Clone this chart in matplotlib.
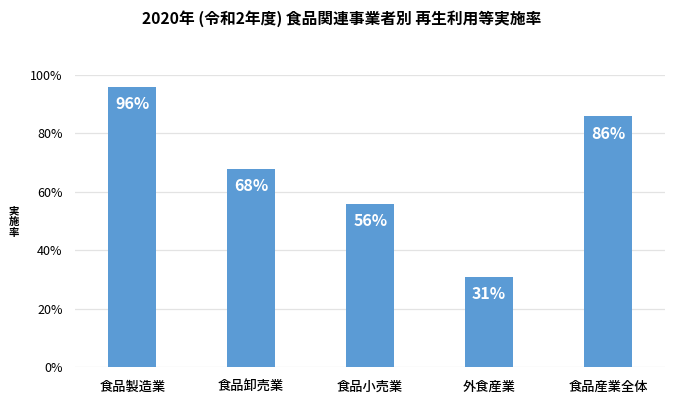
import matplotlib
matplotlib.use('Agg')
import matplotlib.pyplot as plt

plt.rcParams['font.family'] = ['Noto Sans CJK JP', 'DejaVu Sans']

categories = ['食品製造業', '食品卸売業', '食品小売業', '外食産業', '食品産業全体']
rates = [96, 68, 56, 31, 86]
yticks = [0, 20, 40, 60, 80, 100]
ytick_labels = ['0%', '20%', '40%', '60%', '80%', '100%']
ylabel_chars = ['実', '施', '率']

fig = plt.figure(figsize=(6.83, 4.08), dpi=100, facecolor='white')
ax = fig.add_axes([0.11, 0.10, 0.864, 0.716])

x = range(len(categories))
bars = ax.bar(x, rates, width=0.4, color='#5b9bd5', zorder=3)

for b, v in zip(bars, rates):
    ax.text(b.get_x() + b.get_width() / 2, v - 3.3, f'{v}%', ha='center', va='top',
            color='white', fontsize=11.5, fontweight='bold', zorder=4)

ax.set_xlim(-0.48, len(categories) - 0.52)
ax.set_ylim(0, 100)
ax.set_yticks(yticks)
ax.set_yticklabels(ytick_labels, fontsize=9)
ax.set_xticks(list(x))
ax.set_xticklabels(categories, fontsize=9.5, fontweight='medium')
ax.tick_params(axis='x', length=0, pad=9)
ax.tick_params(axis='y', length=0, pad=9)
ax.yaxis.grid(True, color='#e3e3e3', linewidth=0.9, zorder=0)
for s in ax.spines.values():
    s.set_visible(False)

# vertical stacked y label
for i, ch in enumerate(ylabel_chars):
    fig.text(0.02, 0.481 - i * 0.026, ch, ha='center', va='center', fontsize=7.5,
             fontweight='bold')

fig.text(0.5, 0.955, '2020年 (令和2年度) 食品関連事業者別 再生利用等実施率', ha='center',
         va='center', fontsize=11.3, fontweight='bold')

fig.savefig('out.png', dpi=100, facecolor='white')
